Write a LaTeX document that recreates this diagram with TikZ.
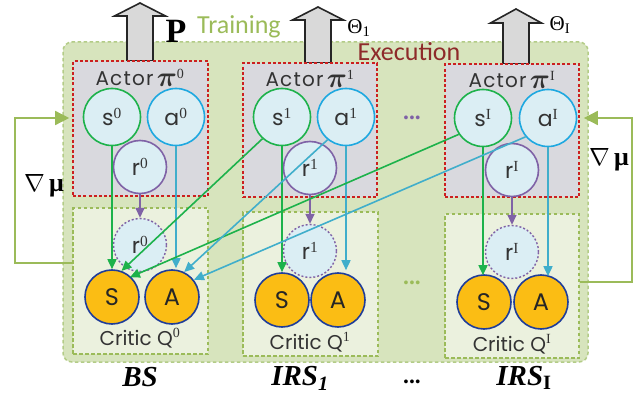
\documentclass[tikz,border=0pt]{standalone}
\usepackage{amsmath,amssymb}
\usepackage{fontspec}
\setmainfont{Liberation Serif}
\newfontfamily\geo{Poppins}
\newfontfamily\geow[LetterSpace=6]{Poppins}
\newfontfamily\calib{Carlito}
\usetikzlibrary{arrows.meta}
\definecolor{bggreen}{HTML}{D7E4BD}
\definecolor{bgborder}{HTML}{B3CC87}
\definecolor{agray}{HTML}{D9D9DE}
\definecolor{dred}{HTML}{CC1F1F}
\definecolor{clight}{HTML}{EBF1DE}
\definecolor{cgreen}{HTML}{9BBB59}
\definecolor{lblue}{HTML}{DBEEF4}
\definecolor{sgreen}{HTML}{1DB24B}
\definecolor{ablue}{HTML}{1EA8E0}
\definecolor{lcyan}{HTML}{40AECB}
\definecolor{purp}{HTML}{7F62A6}
\definecolor{orng}{HTML}{FBBD14}
\definecolor{navy}{HTML}{1F3D99}
\definecolor{exred}{HTML}{8E2A2A}
\definecolor{blkgray}{HTML}{D9D9D9}
\newcommand\supx[1]{\textsuperscript{\rmfamily #1}}
\newcommand\bpi{\raisebox{-1pt}{\scalebox{1.35}{$\boldsymbol{\pi}$}}}
\tikzset{
  lbl/.style={font=\geo\fontsize{22}{22}\selectfont, text=black!80},
  scirc/.style={circle, draw=sgreen, fill=lblue, line width=1.6pt, minimum size=57pt, inner sep=0pt, lbl},
  acirc/.style={scirc, draw=ablue},
  rcirc/.style={scirc, draw=purp, minimum size=53pt},
  rdcirc/.style={rcirc, line width=1.4pt, dash pattern=on 2pt off 2pt},
  ocirc/.style={circle, draw=navy, fill=orng, line width=1.6pt, minimum size=54pt, inner sep=0pt,
    font=\geo\fontsize{24}{24}\selectfont, text=black!85},
  actorbox/.style={draw=dred, fill=agray, line width=1.6pt, dash pattern=on 3pt off 2.2pt, inner sep=0pt},
  criticbox/.style={draw=cgreen, fill=clight, line width=1.6pt, dash pattern=on 3.5pt off 2.5pt, inner sep=0pt},
  bigbox/.style={draw=bgborder, fill=bggreen, line width=1.5pt, dash pattern=on 3.5pt off 2.5pt, rounded corners=9pt, inner sep=0pt},
  garr/.style={draw=sgreen, line width=1.6pt, -{Triangle[length=10pt,width=9pt]}},
  carr/.style={draw=lcyan, line width=1.6pt, -{Triangle[length=10pt,width=9pt]}},
  parr/.style={draw=purp, line width=1.6pt, -{Triangle[length=10pt,width=9pt]}},
  fb/.style={draw=cgreen, line width=1.5pt, -{Triangle[length=14pt,width=14pt]}},
  blk/.style={draw=black!85, fill=blkgray, line width=1.6pt, line join=miter},
  actlbl/.style={font=\geow\fontsize{20}{20}\selectfont, text=black!80},
  critlbl/.style={font=\geo\fontsize{20}{20}\selectfont, text=black!80},
  botlbl/.style={font=\rmfamily\bfseries\itshape\fontsize{29}{29}\selectfont},
  dotsl/.style={font=\rmfamily\bfseries\fontsize{14}{14}\selectfont},
}
\newcommand\blockarrow[4]{%
  \draw[blk] ({#1-13},#4) -- ({#1-13},#3) -- ({#1-25.5},#3) -- (#1,#2) -- ({#1+25.5},#3)
    -- ({#1+13},#3) -- ({#1+13},#4) -- cycle;}
\begin{document}
\begin{tikzpicture}[x=1pt,y=-1pt]
\useasboundingbox (0,0) rectangle (641,396);
% big background box
\node[bigbox, minimum width=525pt, minimum height=320pt] (big) at (325.5,202) {};
% block arrows
\blockarrow{140}{3}{16}{61}
\blockarrow{318}{7}{20}{63}
\blockarrow{516}{9}{23}{64}
% top labels
\node[font=\rmfamily\bfseries\fontsize{34}{34}\selectfont] (P) at (176,31) {P};
\node[font=\calib\fontsize{26}{26}\selectfont, text=cgreen] (train) at (239,27) {Training};
\node[font=\rmfamily\fontsize{21}{21}\selectfont] (th1) at (359,28) {Θ\textsubscript{1}};
\node[font=\rmfamily\fontsize{21}{21}\selectfont] (thI) at (560,25) {Θ\textsubscript{I}};
\node[font=\calib\fontsize{26}{26}\selectfont, text=exred] (exec) at (409,52) {Execution};
% actor boxes
\node[actorbox, minimum width=135pt, minimum height=135pt] (A0) at (140.5,128.5) {};
\node[actorbox, minimum width=134pt, minimum height=134pt] (A1) at (310,130) {};
\node[actorbox, minimum width=134pt, minimum height=133pt] (AI) at (512,130.5) {};
% critic boxes
\node[criticbox, minimum width=135pt, minimum height=146pt] (C0) at (140.5,281) {};
\node[criticbox, minimum width=135pt, minimum height=144pt] (C1) at (310.5,284) {};
\node[criticbox, minimum width=134pt, minimum height=144pt] (CI) at (512,286) {};
% actor labels
\node[actlbl] (al0) at (140,78) {Actor\,\bpi\supx{0}};
\node[actlbl] (al1) at (310,79) {Actor\,\bpi\supx{1}};
\node[actlbl] (alI) at (512,80) {Actor\,\bpi\supx{I}};
% critic labels
\node[critlbl] (cl0) at (140,338) {Critic Q\supx{0}};
\node[critlbl] (cl1) at (310,342) {Critic Q\supx{1}};
\node[critlbl] (clI) at (512,344) {Critic Q\supx{I}};
% actor circles
\node[scirc] (s0) at (112,117) {s\supx{0}};
\node[acirc] (a0) at (176,117) {a\supx{0}};
\node[rcirc] (r0) at (140,167) {r\supx{0}};
\node[scirc] (s1) at (282,117) {s\supx{1}};
\node[acirc] (a1) at (346,117) {a\supx{1}};
\node[rcirc] (r1) at (310,168) {r\supx{1}};
\node[scirc] (sI) at (483,118) {s\supx{I}};
\node[acirc] (aI) at (548,118) {a\supx{I}};
\node[rcirc] (rI) at (512,170) {r\supx{I}};
% critic circles
\node[rdcirc] (rc0) at (140,245) {r\supx{0}};
\node[ocirc] (S0) at (112,297) {S};
\node[ocirc] (Q0) at (172,297) {A};
\node[rdcirc] (rc1) at (310,251) {r\supx{1}};
\node[ocirc] (S1) at (282,300) {S};
\node[ocirc] (Q1) at (338,300) {A};
\node[rdcirc] (rcI) at (512,252) {r\supx{I}};
\node[ocirc] (SI) at (484,302) {S};
\node[ocirc] (QI) at (541,302) {A};
% dots
\node[dotsl, text=purp] (d1) at (412,119) {\textbullet\kern1pt\textbullet\kern1pt\textbullet};
\node[dotsl, text=cgreen] (d2) at (412,284) {\textbullet\kern1pt\textbullet\kern1pt\textbullet};
\node[dotsl, text=black] (d3) at (412,383) {\textbullet\kern1pt\textbullet\kern1pt\textbullet};
% bottom labels
\node[botlbl] (bs) at (140,377) {BS};
\node[botlbl] (irs1) at (300,378) {IRS\textsubscript{1}};
\node[botlbl] (irsI) at (524,378) {IRS\textsubscript{\upshape I}};
% nabla mu
\node[font=\fontsize{26}{26}\selectfont] (nl) at (44,186) {$\nabla$\,{\bfseries μ}};
\node[font=\fontsize{26}{26}\selectfont] (nr) at (609,160) {$\nabla$\,{\bfseries μ}};
% feedback loops
\coordinate (fl1) at (15,263);
\coordinate (fl2) at (15,118);
\coordinate (fr1) at (632,282);
\coordinate (fr2) at (632,118);
\draw[fb] (C0.west |- fl1) -- (fl1) |- ([xshift=-3pt]A0.west |- fl2);
\draw[fb] (CI.east |- fr1) -- (fr1) |- ([xshift=4pt]AI.east |- fr2);
% vertical arrows
\draw[garr] (s0) -- (s0 |- S0.north);
\draw[carr] (a0) -- ([yshift=1pt]a0 |- Q0.north);
\draw[parr] (r0) -- (rc0);
\draw[garr] (s1) -- (s1 |- S1.north);
\draw[carr] (a1) -- ([yshift=2pt]a1 |- Q1.north);
\draw[parr] (r1) -- (rc1);
\draw[garr] (sI) -- ([yshift=-1pt]sI |- SI.north);
\draw[carr] (aI) -- ([yshift=-2pt]aI |- QI.north);
\draw[parr] (rI) -- (rcI);
% cross arrows
\draw[garr] (s1.228) -- (S0.70);
\draw[garr] (sI.214) -- ([shift={(2pt,-3pt)}]S0.55);
\draw[carr] (a1.231) -- (Q0.64);
\draw[carr] (aI.220) -- ([shift={(1pt,-1pt)}]Q0.41);
\end{tikzpicture}
\end{document}
